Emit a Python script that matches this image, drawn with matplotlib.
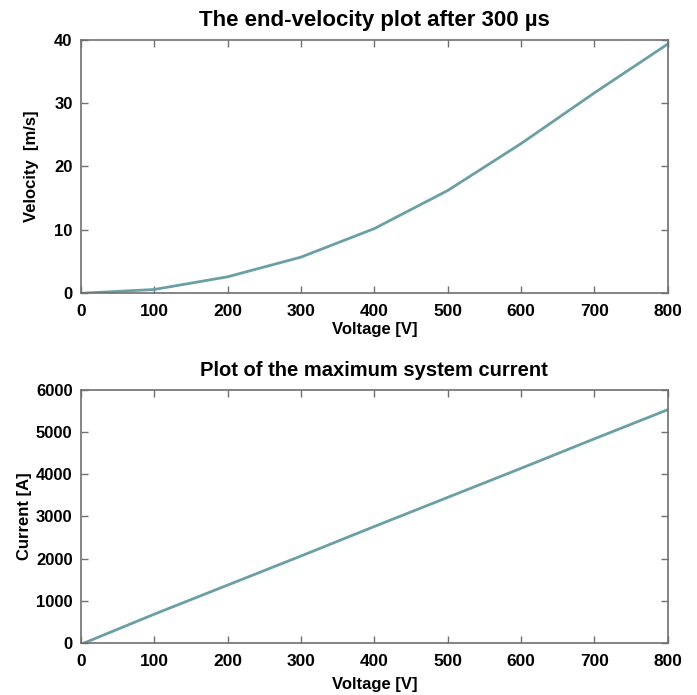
import matplotlib.pyplot as plt
import numpy as np

plt.rcParams['font.family'] = ['Liberation Sans', 'DejaVu Sans']
plt.rcParams['font.weight'] = 'bold'

voltage = [0, 100, 200, 300, 400, 500, 600, 700, 800]
velocity = [0, 0.6, 2.6, 5.7, 10.2, 16.2, 23.6, 31.6, 39.3]

voltage_i = [5, 100, 200, 300, 400, 500, 600, 700, 800]
current = [0, 680, 1370, 2060, 2760, 3450, 4140, 4840, 5530]

line_col = '#6a9fa5'
frame_col = '#707070'

fig = plt.figure(figsize=(6.97, 6.95), dpi=100)
ax1 = fig.add_axes([0.116, 0.578, 0.842, 0.365])
ax2 = fig.add_axes([0.116, 0.075, 0.842, 0.364])


def style(ax):
    for s in ax.spines.values():
        s.set_color(frame_col)
        s.set_linewidth(1.2)
    ax.tick_params(direction='in', top=True, right=True, color=frame_col,
                   length=5, width=1)
    ax.tick_params(axis='x', pad=8, labelsize=12.5)
    ax.tick_params(axis='y', pad=6, labelsize=12)
    for lab in ax.get_xticklabels() + ax.get_yticklabels():
        lab.set_fontweight('bold')


ax1.plot(voltage, velocity, color=line_col, lw=2)
ax1.set_xlim(0, 800)
ax1.set_ylim(0, 40)
ax1.set_xticks(range(0, 801, 100))
ax1.set_yticks([0, 10, 20, 30, 40])
ax1.set_title('The end-velocity plot after 300 µs', fontsize=16, fontweight='bold', pad=10)
ax1.set_xlabel('Voltage [V]', fontsize=12, fontweight='bold', labelpad=2)
ax1.set_ylabel('Velocity  [m/s]', fontsize=12, fontweight='bold', labelpad=11)
style(ax1)

ax2.plot(voltage_i, current, color=line_col, lw=2)
ax2.set_xlim(0, 800)
ax2.set_ylim(0, 6000)
ax2.set_xticks(range(0, 801, 100))
ax2.set_yticks(range(0, 6001, 1000))
ax2.set_title('Plot of the maximum system current', fontsize=14.5, fontweight='bold', pad=10)
ax2.set_xlabel('Voltage [V]', fontsize=12, fontweight='bold', labelpad=6)
ax2.set_ylabel('Current [A]', fontsize=12, fontweight='bold', labelpad=3)
style(ax2)

fig.savefig('out.png', dpi=100)
